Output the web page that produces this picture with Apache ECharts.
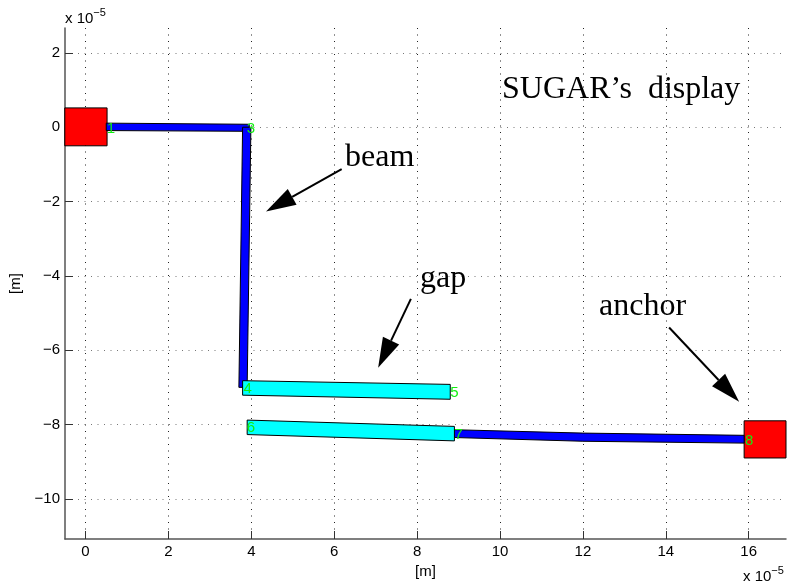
<!DOCTYPE html>
<html><head><meta charset="utf-8">
<style>html,body{margin:0;padding:0;background:#fff}#c{width:801px;height:585px}</style>
<script src="https://cdn.jsdelivr.net/npm/echarts@6/dist/echarts.min.js"></script>
</head><body><div id="c"></div>
<script>
const xTicks = [0,2,4,6,8,10,12,14,16];
const yTicks = [-10,-8,-6,-4,-2,0,2];
const anchorLeft = [[-0.5,0.52],[0.52,0.52],[0.52,-0.5],[-0.5,-0.5]];
const anchorRight = [[15.89,-7.9],[16.9,-7.9],[16.9,-8.9],[15.89,-8.9]];
const beamTop = [[0.5,0.11],[3.95,0.08],[3.95,-0.11],[0.5,-0.09]];
const beamSide = [[3.79,0.0],[3.99,0.0],[3.9,-7.0],[3.7,-7.0]];
const beamBottom = [[8.9,-8.14],[12,-8.23],[15.89,-8.29],[15.89,-8.5],[12,-8.45],[8.9,-8.35]];
const gapUpper = [[3.79,-6.82],[8.8,-6.92],[8.8,-7.32],[3.79,-7.21]];
const gapLower = [[3.9,-7.88],[8.9,-8.05],[8.9,-8.44],[3.9,-8.27]];
const nodeLabels = ['1','3','4','5','6','7','8'];
const nodeX = [0.615,3.99,3.91,8.9,3.99,9.0,16.01];
const nodeY = [-0.05,-0.04,-7.05,-7.14,-8.1,-8.29,-8.43];
const noteText = ['beam','gap','anchor',"SUGAR\u2019s  display"];
const noteX = [6.26,8.07,12.39,10.05];
const noteY = [-0.82,-4.07,-4.82,1.01];
const arrowStart = [[6.18,-1.125],[7.85,-4.62],[14.08,-5.39]];
const arrowEnd = [[4.355,-2.27],[7.06,-6.47],[15.77,-7.39]];
const fillRed='#ff0000', fillBlue='#0000ff', fillCyan='#00ffff';

function poly(points, fill, z){
  return {type:'custom',coordinateSystem:'cartesian2d',z:z,silent:true,clip:false,
    data:[points[0]],
    renderItem:(p,api)=>({type:'polygon',
      shape:{points:points.map(q=>api.coord(q))},
      style:{fill:fill,stroke:'#000',lineWidth:1}})};
}
function arrows(){
  return {type:'custom',coordinateSystem:'cartesian2d',z:8,silent:true,clip:false,
    data:arrowStart.map((s,i)=>[s[0],s[1],arrowEnd[i][0],arrowEnd[i][1]]),
    renderItem:(p,api)=>{
      const a=api.coord([api.value(0),api.value(1)]), b=api.coord([api.value(2),api.value(3)]);
      const dx=b[0]-a[0],dy=b[1]-a[1],l=Math.hypot(dx,dy),ux=dx/l,uy=dy/l;
      const len=30,hw=9;
      const bx=b[0]-ux*len,by=b[1]-uy*len;
      return {type:'group',children:[
        {type:'line',shape:{x1:a[0],y1:a[1],x2:bx,y2:by},style:{stroke:'#000',lineWidth:2}},
        {type:'polygon',shape:{points:[b,[bx-uy*hw,by+ux*hw],[bx+uy*hw,by-ux*hw]]},style:{fill:'#000'}}
      ]};
    }};
}
function texts(labels,xs,ys,font,color,align){
  return {type:'custom',coordinateSystem:'cartesian2d',z:9,silent:true,clip:false,
    data:xs.map((x,i)=>[x,ys[i]]),
    renderItem:(p,api)=>{
      const c=api.coord([api.value(0),api.value(1)]);
      return {type:'text',x:c[0],y:c[1],style:{text:labels[p.dataIndex],font:font,fill:color,align:align,verticalAlign:'middle'}};
    }};
}
const sci = {text:'x 10{s|\u22125}',textStyle:{fontFamily:'Liberation Sans',fontSize:15,color:'#000',fontWeight:'normal',
  rich:{s:{fontFamily:'Liberation Sans',fontSize:11,color:'#000',verticalAlign:'top',lineHeight:24}}}};
const chart = echarts.init(document.getElementById('c'),null,{renderer:'canvas'});
const fmt = v=>String(v).replace('-','\u2212');
const axisCommon = {
  axisLine:{show:true,onZero:false,lineStyle:{color:'#555',width:1.5}},
  axisTick:{show:true,inside:true,length:8,lineStyle:{color:'#333'}}
};
chart.setOption({
  animation:false,backgroundColor:'#fff',
  title:[
    Object.assign({left:60,top:2},sci),
    Object.assign({left:738,top:560},sci)
  ],
  grid:{left:65,top:28,width:721,height:511,containLabel:false},
  xAxis:Object.assign({type:'value',min:-0.495,max:16.9,
    name:'[m]',nameLocation:'middle',nameGap:19,nameTextStyle:{fontFamily:'Liberation Sans',fontSize:15,color:'#000'},
    axisLabel:{customValues:xTicks,formatter:fmt,fontFamily:'Liberation Sans',fontSize:15,color:'#000',margin:5},
    splitLine:{show:true,lineStyle:{color:'#222',width:1,type:[1,5.5]}}},axisCommon,
    {axisTick:Object.assign({customValues:xTicks},axisCommon.axisTick)}),
  yAxis:Object.assign({type:'value',min:-11.08,max:2.67,
    name:'[m]',nameLocation:'middle',nameGap:33,nameTextStyle:{fontFamily:'Liberation Sans',fontSize:15,color:'#000'},
    axisLabel:{customValues:yTicks,formatter:fmt,fontFamily:'Liberation Sans',fontSize:15,color:'#000',margin:5,padding:[3,0,0,0]},
    splitLine:{show:true,lineStyle:{color:'#777',width:1,type:[1,5.5]}}},axisCommon,
    {axisTick:Object.assign({customValues:yTicks},axisCommon.axisTick)}),
  series:[
    poly(anchorLeft,fillRed,3),poly(anchorRight,fillRed,3),
    poly(beamTop,fillBlue,4),poly(beamSide,fillBlue,4),poly(beamBottom,fillBlue,4),
    poly(gapUpper,fillCyan,5),poly(gapLower,fillCyan,5),
    texts(nodeLabels,nodeX,nodeY,'15px "Liberation Sans"','#11ee11','center'),
    arrows(),
    texts(noteText,noteX,noteY,'32px "Liberation Serif"','#000','left')
  ]
});
</script></body></html>
